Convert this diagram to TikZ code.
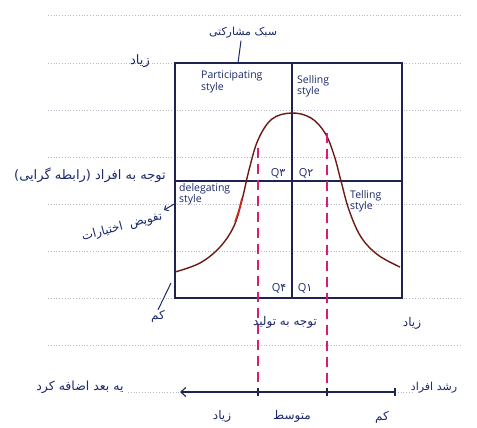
\documentclass[tikz,border=0pt]{standalone}
\usepackage{fontspec}
\setmainfont{DejaVu Sans}
\newfontfamily\fa[Script=Arabic]{DejaVu Sans}
\newfontfamily\en{Open Sans}
\TeXXeTstate=1
\usetikzlibrary{arrows.meta}
\definecolor{ink}{HTML}{1C2A6B}
\definecolor{boxc}{HTML}{1E2352}
\definecolor{curvec}{HTML}{6E1A14}
\definecolor{redc}{HTML}{D42A1E}
\definecolor{mag}{HTML}{D81B7A}
\definecolor{paper}{HTML}{B5B9C6}
\tikzset{
  paperline/.style={paper, dotted, line width=0.8pt},
  boxline/.style={boxc, line width=1.3pt},
  entxt/.style={ink, font=\en\fontsize{10.5}{11.5}\selectfont, align=left, inner sep=0pt},
  fatxt/.style={ink, font=\fa\fontsize{11}{12}\selectfont, inner sep=0pt},
  qtxt/.style={ink, font=\en\fontsize{11}{12}\selectfont, inner sep=0pt},
  magdash/.style={mag, line width=2pt, dash pattern=on 10pt off 6pt},
  inkline/.style={ink, line width=1pt}
}
\begin{document}
\begin{tikzpicture}[x=1pt,y=-1pt]
\useasboundingbox (0,0) rectangle (477,428);
\fill[white] (0,0) rectangle (477,428);
% notebook lines
\foreach \yy in {15,63,110,157,204,251,298,345} \draw[paperline] (48,\yy) -- (462,\yy);
\draw[paperline] (128,392) -- (180,392);
\draw[paperline] (395,392) -- (413,392);
% box
\draw[boxline] (175,63) rectangle (402,298);
\draw[boxline] (292,63) -- (292,298);
\draw[boxline] (175,181) -- (402,181);
% curve
\draw[curvec, line width=1.4pt] plot[smooth, tension=0.6] coordinates {
 (175,272) (200,263) (220,247) (234,226) (242,200) (249,170) (258,140) (272,119) (292,113)
 (311,118) (325,133) (334,155) (341,181) (349,210) (361,237) (378,255) (400,267)};
\draw[redc, line width=1.6pt] plot[smooth] coordinates {(235,222) (239,210) (242,198)};
% dashed
\draw[magdash] (258,148) -- (258,396);
\draw[magdash] (327,133) -- (327,396);
% axis
\coordinate (axL) at (180,392);
\coordinate (axR) at (395,392);
\draw[boxc, line width=1.1pt, {Straight Barb[length=5pt,width=9pt]}-] (axL) -- (axR);
\foreach \xx in {258,327,395} \draw[boxc, line width=1.1pt] (\xx,388) -- (\xx,396);
% box labels
\node[entxt, anchor=north west] (part) at (201,71) {Participating\\style};
\node[entxt, anchor=north west] (sell) at (297,75) {Selling\\style};
\node[entxt, anchor=north west] (dele) at (179,183) {delegating\\style};
\node[entxt, anchor=north west] (tell) at (350,190) {Telling\\style};
\node[qtxt] (q3) at (278,173) {Q{\fa ۳}};
\node[qtxt] (q2) at (306,173) {Q{\fa ۲}};
\node[qtxt] (q4) at (279,288) {Q{\fa ۴}};
\node[qtxt] (q1) at (305,288) {Q{\fa ۱}};
% persian labels
\node[fatxt, font=\fa\fontsize{11}{12}\selectfont] (top) at (243,33) {\beginR سبک مشارکتی\endR};
\coordinate (boxtop) at (238,63);
\draw[inkline] (top.south) ++(-2,2) coordinate (tops) -- (boxtop);
\node[fatxt, font=\fa\fontsize{13}{14}\selectfont] (hiL) at (140,61) {\beginR زیاد\endR};
\node[fatxt, font=\fa\fontsize{13}{14}\selectfont] (people) at (90,175) {\beginR توجه به افراد (رابطه گرایی)\endR};
\node[fatxt, font=\fa\fontsize{12}{13}\selectfont, rotate=15] (deleg) at (122,227) {\beginR تفویض\hspace{7pt}اختیارات\endR};
\coordinate (boxleft) at (176,203);
\draw[inkline, -{Straight Barb[length=3pt,width=6pt]}] (boxleft) -- (164,210);
\node[fatxt, font=\fa\fontsize{12}{13}\selectfont] (lowL) at (158,316) {\beginR کم\endR};
\coordinate (corner) at (171,283);
\draw[inkline] (lowL.north) -- (corner);
\node[fatxt, font=\fa\fontsize{12}{13}\selectfont] (prod) at (285,322) {\beginR توجه به تولید\endR};
\node[fatxt, font=\fa\fontsize{12}{13}\selectfont] (hiR) at (412,323) {\beginR زیاد\endR};
\node[fatxt, font=\fa\fontsize{11}{12}\selectfont] (mat) at (434,388) {\beginR رشد افراد\endR};
\node[fatxt, font=\fa\fontsize{12.5}{13}\selectfont] (dim) at (80,387) {\beginR یه بعد اضافه کرد\endR};
\node[fatxt, font=\fa\fontsize{12}{13}\selectfont] (ax1) at (222,416) {\beginR زیاد\endR};
\node[fatxt, font=\fa\fontsize{12}{13}\selectfont] (ax2) at (292,416) {\beginR متوسط\endR};
\node[fatxt, font=\fa\fontsize{12}{13}\selectfont] (ax3) at (382,417) {\beginR کم\endR};
\end{tikzpicture}
\end{document}
